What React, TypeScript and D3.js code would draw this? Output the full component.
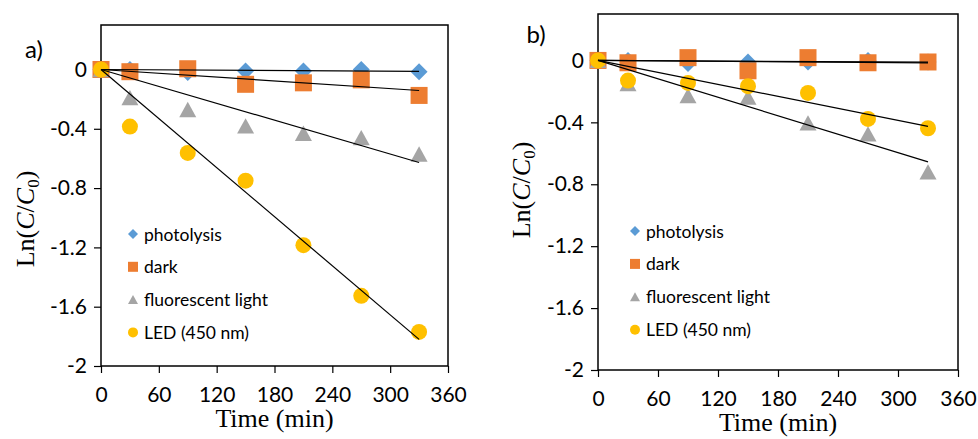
import { useEffect, useRef } from "react";
import * as d3 from "d3";

// sampling times (min)
const times = [0, 30, 90, 150, 210, 270, 330];

// panel a) Ln(C/C0)
const aPhotolysis = [0, 0, -0.02, -0.01, -0.01, 0, -0.015];
const aDark = [0, -0.015, 0.005, -0.1, -0.09, -0.07, -0.175];
const aFluorescent = [0, -0.19, -0.27, -0.38, -0.43, -0.46, -0.57];
const aLed = [0, -0.385, -0.563, -0.75, -1.185, -1.527, -1.77];

// panel b) Ln(C/C0)
const bPhotolysis = [0, 0, -0.02, -0.01, -0.01, 0, -0.01];
const bDark = [0, -0.015, 0.018, -0.067, 0.018, -0.015, -0.01];
const bFluorescent = [0, -0.15, -0.227, -0.237, -0.404, -0.475, -0.72];
const bLed = [0, -0.13, -0.145, -0.166, -0.21, -0.378, -0.438];

const seriesNames = ["photolysis", "dark", "fluorescent light", "LED (450 nm)"];
const seriesColors = ["#5B9BD5", "#ED7D31", "#A5A5A5", "#FFC000"];
const seriesShapes = ["diamond", "square", "triangle", "circle"];

const xTicks = [0, 60, 120, 180, 240, 300, 360];
const yTicks = [0, -0.4, -0.8, -1.2, -1.6, -2];

const panels = [
  {
    label: "a)",
    series: [aPhotolysis, aDark, aFluorescent, aLed],
    box: { left: 101, top: 25, right: 448, bottom: 366 },
    labelPos: [34, 48],
    yTitle: [25, 219],
    legend: { x: 133, y: 234, step: 32.8 },
  },
  {
    label: "b)",
    series: [bPhotolysis, bDark, bFluorescent, bLed],
    box: { left: 598, top: 14, right: 958, bottom: 370 },
    labelPos: [536, 33],
    yTitle: [521, 190],
    legend: { x: 635, y: 231, step: 32.9 },
  },
];

const sans = "Lato, 'Open Sans', sans-serif";
const serif = "'Liberation Serif', 'Times New Roman', serif";

function drawMarker(g, shape, color, size) {
  const s = size;
  if (shape === "circle") {
    g.append("circle").attr("r", s / 2).attr("fill", color);
  } else if (shape === "square") {
    g.append("rect")
      .attr("x", -s / 2)
      .attr("y", -s / 2)
      .attr("width", s)
      .attr("height", s)
      .attr("fill", color);
  } else if (shape === "diamond") {
    g.append("path")
      .attr("d", `M0,${-s / 2}L${s / 2},0L0,${s / 2}L${-s / 2},0Z`)
      .attr("fill", color);
  } else {
    const h = s * 0.9;
    g.append("path")
      .attr("d", `M0,${-h / 2}L${s / 2},${h / 2}L${-s / 2},${h / 2}Z`)
      .attr("fill", color);
  }
}

const App = () => {
  const ref = useRef(null);

  useEffect(() => {
    const svg = d3.select(ref.current);
    svg.selectAll("*").remove();

    panels.forEach((p) => {
      const { left, top, right, bottom } = p.box;
      const x = d3.scaleLinear().domain([0, 360]).range([left, right]);
      const y = d3.scaleLinear().domain([-2, 0.3]).range([bottom, top]);
      const g = svg.append("g");

      // plot frame
      g.append("rect")
        .attr("x", left)
        .attr("y", top)
        .attr("width", right - left)
        .attr("height", bottom - top)
        .attr("fill", "none")
        .attr("stroke", "#000")
        .attr("stroke-width", 1.5);

      // y axis (excel style hyphen minus)
      const yAxis = g
        .append("g")
        .attr("transform", `translate(${left},0)`)
        .call(
          d3
            .axisLeft(y)
            .tickValues(yTicks)
            .tickSize(7)
            .tickFormat((d) => String(d))
        );
      yAxis.select(".domain").remove();
      yAxis.selectAll("line").attr("stroke", "#000").attr("stroke-width", 1.2);
      yAxis
        .selectAll("text")
        .attr("font-family", sans)
        .attr("font-size", 21)
        .attr("fill", "#000")
        .attr("x", -14);

      // x axis
      const xAxis = g
        .append("g")
        .attr("transform", `translate(0,${bottom})`)
        .call(d3.axisBottom(x).tickValues(xTicks).tickSize(7));
      xAxis.select(".domain").remove();
      xAxis.selectAll("line").attr("stroke", "#000").attr("stroke-width", 1.2);
      xAxis
        .selectAll("text")
        .attr("font-family", sans)
        .attr("font-size", 21)
        .attr("fill", "#000")
        .attr("y", 21);

      // axis titles
      g.append("text")
        .attr("x", (left + right) / 2)
        .attr("y", bottom + 61)
        .attr("text-anchor", "middle")
        .attr("font-family", serif)
        .attr("font-size", 26)
        .text("Time (min)");

      const yt = g
        .append("text")
        .attr("transform", `translate(${p.yTitle[0] + 9},${p.yTitle[1]}) rotate(-90)`)
        .attr("text-anchor", "middle")
        .attr("font-family", serif)
        .attr("font-size", 26);
      yt.append("tspan").text("Ln(");
      yt.append("tspan").attr("font-style", "italic").text("C");
      yt.append("tspan").text("/");
      yt.append("tspan").attr("font-style", "italic").text("C");
      yt.append("tspan").attr("font-size", 17).attr("dy", 5).text("0");
      yt.append("tspan").attr("dy", -5).text(")");

      // panel label
      g.append("text")
        .attr("x", p.labelPos[0])
        .attr("y", p.labelPos[1])
        .attr("text-anchor", "middle")
        .attr("dominant-baseline", "central")
        .attr("font-family", sans)
        .attr("font-size", 24)
        .text(p.label);

      // markers
      p.series.forEach((vals, si) => {
        times.forEach((t, i) => {
          const m = g.append("g").attr("transform", `translate(${x(t)},${y(vals[i])})`);
          drawMarker(m, seriesShapes[si], seriesColors[si], si === 3 ? 16 : 17);
        });
      });

      // linear trend lines forced through origin
      const sxx = d3.sum(times, (t) => t * t);
      p.series.forEach((vals) => {
        const slope = d3.sum(times, (t, i) => t * vals[i]) / sxx;
        g.append("line")
          .attr("x1", x(0))
          .attr("y1", y(0))
          .attr("x2", x(330))
          .attr("y2", y(slope * 330))
          .attr("stroke", "#000")
          .attr("stroke-width", 1.2);
      });

      // legend
      seriesNames.forEach((name, si) => {
        const ly = p.legend.y + si * p.legend.step;
        const m = g.append("g").attr("transform", `translate(${p.legend.x},${ly})`);
        drawMarker(m, seriesShapes[si], seriesColors[si], 10);
        g.append("text")
          .attr("x", p.legend.x + 11)
          .attr("y", ly)
          .attr("dominant-baseline", "central")
          .attr("font-family", sans)
          .attr("font-size", 17.5)
          .text(name);
      });
    });
  }, []);

  return (
    <div>
      <svg
        ref={ref}
        width={978}
        height={439}
        style={{ position: "absolute", left: 0, top: 0, background: "#fff" }}
      ></svg>
    </div>
  );
};

export default App;
